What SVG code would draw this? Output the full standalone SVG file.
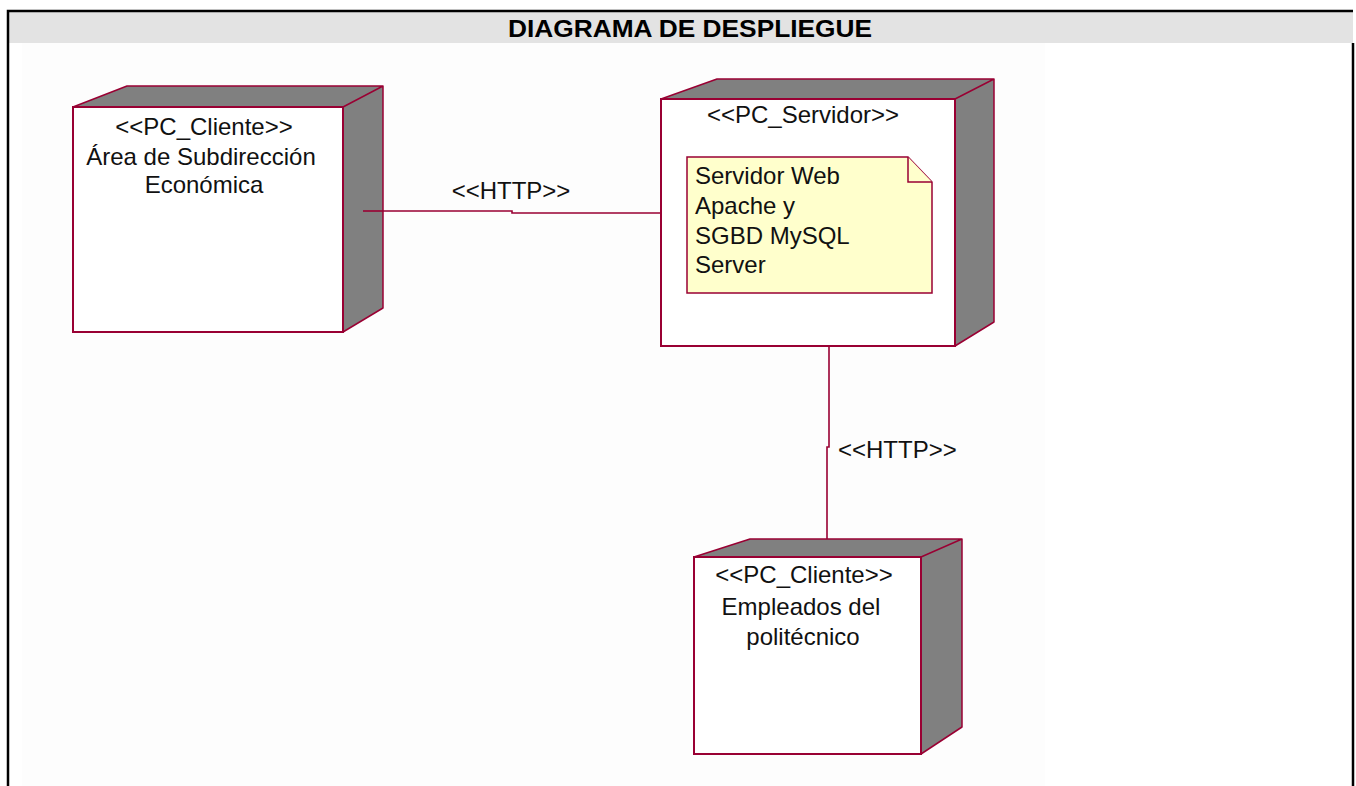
<svg xmlns="http://www.w3.org/2000/svg" width="1356" height="786" viewBox="0 0 1356 786">
<style>
.frame{fill:none;stroke:#000;stroke-width:2.5}
.face{fill:#fff;stroke:#990033;stroke-width:2}
.side{fill:#808080;stroke:#990033;stroke-width:1.5;stroke-linejoin:round}
.note{fill:#ffffcc;stroke:#990033;stroke-width:1.5}
.conn{fill:none;stroke:#990033;stroke-width:1.6}
.t{font-family:"Liberation Sans",Arial,sans-serif;font-size:24px;fill:#111}
.c{text-anchor:middle}
.h{font-family:"Liberation Sans",Arial,sans-serif;font-size:24px;font-weight:bold;fill:#000;text-anchor:middle}
</style>
<rect x="0" y="0" width="1356" height="786" fill="#fff"/>
<g id="frame">
<rect x="8" y="12" width="1345" height="31" fill="#e3e3e3"/>
<rect x="22" y="43" width="1023" height="743" fill="#fdfdfd"/>
<path class="frame" d="M8,786 V11 H1353 M1353,43 V786"/>
<text class="h" x="690" y="37" textLength="364" lengthAdjust="spacingAndGlyphs">DIAGRAMA DE DESPLIEGUE</text>
</g>
<g id="connectors">
<path class="conn" d="M363,211 H512 V213 H662"/>
<text class="t c" x="511" y="199">&lt;&lt;HTTP&gt;&gt;</text>
<path class="conn" d="M829,346 V447 H827 V547"/>
<text class="t" x="838" y="458">&lt;&lt;HTTP&gt;&gt;</text>
</g>
<g id="node-cliente-area">
<path class="side" d="M73,107 L127,86 H383 V308 L343,332 V107 Z M343,107 L383,86"/>
<rect class="face" x="73" y="107" width="270" height="225"/>
<path class="conn" d="M363,211 H383"/>
<text class="t c" x="204" y="135">&lt;&lt;PC_Cliente&gt;&gt;</text>
<text class="t c" x="201" y="165">Área de Subdirección</text>
<text class="t c" x="204" y="193">Económica</text>
</g>
<g id="node-servidor">
<path class="side" d="M661,99 L717,79 H994 V322 L955,346 V99 Z M955,99 L994,79"/>
<rect class="face" x="661" y="99" width="294" height="247"/>
<text class="t c" x="803" y="123">&lt;&lt;PC_Servidor&gt;&gt;</text>
<g id="note-servidor">
<path class="note" d="M687,157 H908 L932,182 V293 H687 Z"/>
<path class="note" d="M908,157 V182 H932" fill="none"/>
<text class="t" x="695" y="184">Servidor Web</text>
<text class="t" x="695" y="214">Apache y</text>
<text class="t" x="695" y="244">SGBD MySQL</text>
<text class="t" x="695" y="273">Server</text>
</g>
</g>
<g id="node-cliente-empleados">
<path class="side" d="M694,557 L750,539 H962 V727 L921,754 V557 Z M921,557 L962,539"/>
<rect class="face" x="694" y="557" width="227" height="197"/>
<text class="t c" x="804" y="583">&lt;&lt;PC_Cliente&gt;&gt;</text>
<text class="t c" x="801" y="615">Empleados del</text>
<text class="t c" x="803" y="645">politécnico</text>
</g>
</svg>
